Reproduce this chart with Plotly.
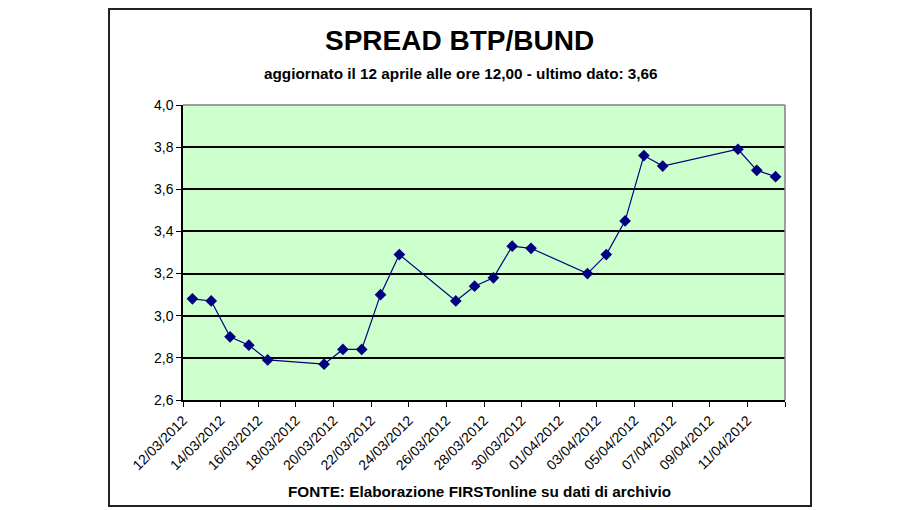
import pandas as pd
import plotly.graph_objects as go

# ---- data ----
dates = ["2012-03-12", "2012-03-13", "2012-03-14", "2012-03-15", "2012-03-16",
         "2012-03-19", "2012-03-20", "2012-03-21", "2012-03-22", "2012-03-23",
         "2012-03-26", "2012-03-27", "2012-03-28", "2012-03-29", "2012-03-30",
         "2012-04-02", "2012-04-03", "2012-04-04", "2012-04-05", "2012-04-06",
         "2012-04-10", "2012-04-11", "2012-04-12"]
spread = [3.08, 3.07, 2.90, 2.86, 2.79,
          2.77, 2.84, 2.84, 3.10, 3.29,
          3.07, 3.14, 3.18, 3.33, 3.32,
          3.20, 3.29, 3.45, 3.76, 3.71,
          3.79, 3.69, 3.66]
tick_labels = ["12/03/2012", "14/03/2012", "16/03/2012", "18/03/2012", "20/03/2012",
               "22/03/2012", "24/03/2012", "26/03/2012", "28/03/2012", "30/03/2012",
               "01/04/2012", "03/04/2012", "05/04/2012", "07/04/2012", "09/04/2012",
               "11/04/2012"]
axis_end = "2012-04-13"
y_ticks = [2.6, 2.8, 3.0, 3.2, 3.4, 3.6, 3.8, 4.0]

title = "SPREAD BTP/BUND"
subtitle = "aggiornato il 12 aprile alle ore 12,00 - ultimo dato: 3,66"
source = "FONTE: Elaborazione FIRSTonline su dati di archivio"

# ---- derived ----
x_pts = pd.to_datetime(dates) + pd.Timedelta(hours=12)  # centre of each day slot
tickvals = list(pd.to_datetime(tick_labels, format="%d/%m/%Y")) + [pd.Timestamp(axis_end)]
ticktext = tick_labels + [""]

FONT = "Arial, Liberation Sans, sans-serif"
NAVY = "#000080"

fig = go.Figure()
fig.add_trace(go.Scatter(
    x=x_pts, y=spread, mode="lines+markers",
    line=dict(color=NAVY, width=1.2),
    marker=dict(symbol="diamond", size=9, color=NAVY),
    showlegend=False, hoverinfo="x+y",
))

fig.update_layout(
    width=912, height=502,
    margin=dict(l=175, r=135, t=97, b=110),
    paper_bgcolor="white",
    plot_bgcolor="#CCFFCC",
    separators=",.",
    font=dict(family=FONT, color="black", size=13),
    xaxis=dict(
        type="date",
        range=[tickvals[0], tickvals[-1]],
        tickmode="array", tickvals=tickvals, ticktext=ticktext,
        tickangle=-45, tickfont=dict(size=14),
        ticks="outside", ticklen=5, tickcolor="black", tickwidth=1,
        showline=True, linecolor="black", linewidth=1.5,
        showgrid=False, zeroline=False,
    ),
    yaxis=dict(
        range=[2.6, 4.0], tickmode="array", tickvals=y_ticks,
        tickformat=".1f", tickfont=dict(size=14),
        ticks="outside", ticklen=5, tickcolor="black", tickwidth=1,
        showline=True, linecolor="black", linewidth=1.5,
        showgrid=True, gridcolor="black", gridwidth=1.6,
        zeroline=False,
    ),
    shapes=[
        # top/right plot border (grey)
        dict(type="line", xref="paper", yref="paper", x0=0, x1=1, y0=1, y1=1,
             line=dict(color="#808080", width=1.5)),
        dict(type="line", xref="paper", yref="paper", x0=1, x1=1, y0=0, y1=1,
             line=dict(color="#808080", width=1.5)),
        # outer chart frame
        dict(type="rect", xref="paper", yref="paper",
             x0=-0.1229, x1=1.0432, y0=-0.3593, y1=1.3254,
             line=dict(color="#222222", width=2)),
    ],
    annotations=[
        dict(text="<b>%s</b>" % title, xref="paper", yref="paper",
             x=0.4601, y=1.2203, showarrow=False, xanchor="center", yanchor="middle",
             font=dict(size=28, family=FONT)),
        dict(text="<b>%s</b>" % subtitle, xref="paper", yref="paper",
             x=0.462, y=1.1051, showarrow=False, xanchor="center", yanchor="middle",
             font=dict(size=15.3, family=FONT)),
        dict(text="<b>%s</b>" % source, xref="paper", yref="paper",
             x=0.493, y=-0.3085, showarrow=False, xanchor="center", yanchor="middle",
             font=dict(size=15.3, family=FONT)),
    ],
)

fig.write_html("out.html")
